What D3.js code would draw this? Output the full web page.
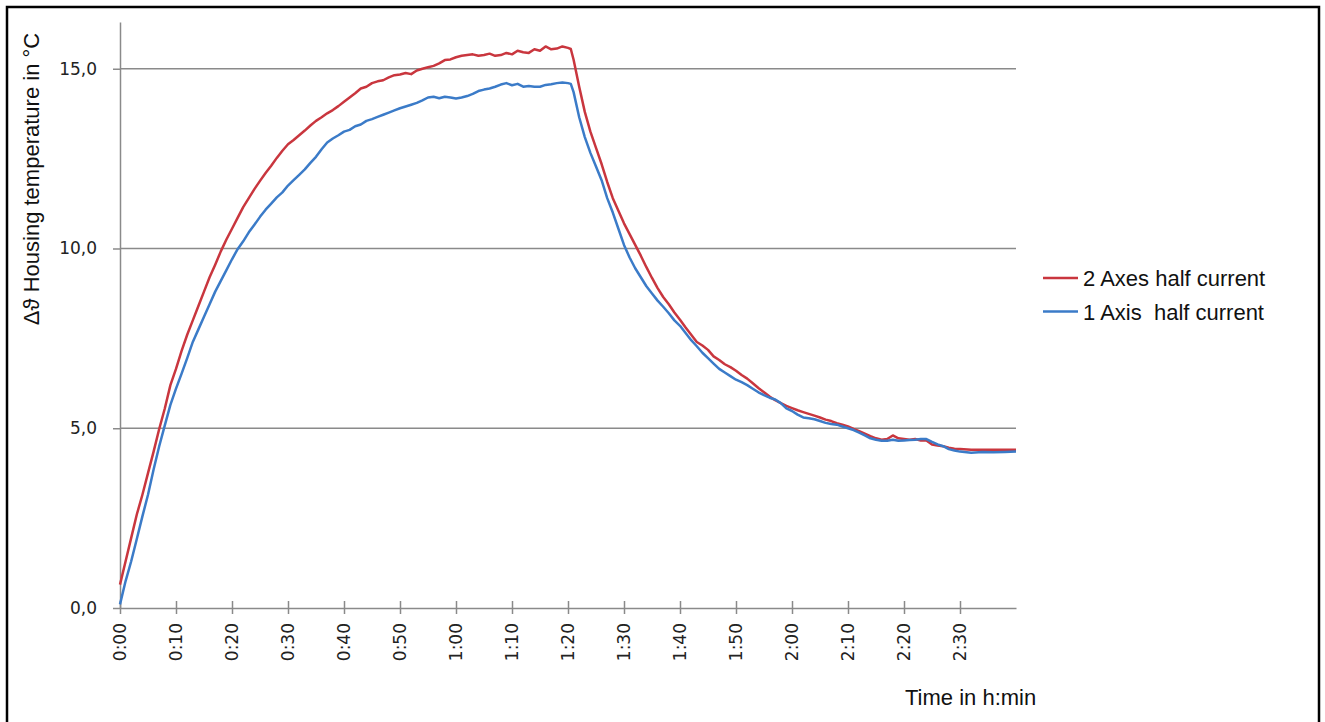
<!DOCTYPE html>
<html>
<head>
<meta charset="utf-8">
<script src="https://cdn.jsdelivr.net/npm/d3@7"></script>
<style>
  body { margin: 0; background: #fff; }
  .tick text { font-family: "DejaVu Sans", sans-serif; font-size: 17px; fill: #222; }
  .label { font-family: "Liberation Sans", Arial, sans-serif; font-size: 22px; fill: #111; }
</style>
</head>
<body>
<div id="chart-area"></div>
<script>

// measured time in minutes (shared by both runs)
var minutes = [
  0, 1, 2, 3, 4, 5, 6, 7, 8, 9,
  10, 11, 12, 13, 14, 15, 16, 17, 18, 19,
  20, 21, 22, 23, 24, 25, 26, 27, 28, 29,
  30, 31, 32, 33, 34, 35, 36, 37, 38, 39,
  40, 41, 42, 43, 44, 45, 46, 47, 48, 49,
  50, 51, 52, 53, 54, 55, 56, 57, 58, 59,
  60, 61, 62, 63, 64, 65, 66, 67, 68, 69,
  70, 71, 72, 73, 74, 75, 76, 77, 78, 79,
  80, 80.5, 81, 82, 83, 84, 85, 86, 87, 88, 89,
  90, 91, 92, 93, 94, 95, 96, 97, 98, 99,
  100, 101, 102, 103, 104, 105, 106, 107, 108, 109,
  110, 111, 112, 113, 114, 115, 116, 117, 118, 119,
  120, 121, 122, 123, 124, 125, 126, 127, 128, 129,
  130, 131, 132, 133, 134, 135, 136, 137, 138, 139,
  140, 141, 142, 143, 144, 145, 146, 147, 148, 149,
  150, 152, 154, 156, 158, 160
]

// 2 Axes half current
var twoAxes = [
  0.65, 1.3, 1.95, 2.6, 3.15, 3.75, 4.35, 4.98, 5.55, 6.2,
  6.65, 7.15, 7.6, 8.0, 8.4, 8.8, 9.2, 9.55, 9.92, 10.25,
  10.55, 10.85, 11.15, 11.4, 11.65, 11.88, 12.1, 12.3, 12.52, 12.72,
  12.9, 13.02, 13.15, 13.28, 13.42, 13.55, 13.65, 13.76, 13.85, 13.96,
  14.08, 14.2, 14.32, 14.45, 14.5, 14.6, 14.65, 14.68, 14.76, 14.82,
  14.84, 14.88, 14.85, 14.95, 15.0, 15.04, 15.08, 15.15, 15.24, 15.26,
  15.32, 15.36, 15.38, 15.4, 15.36, 15.38, 15.42, 15.36, 15.38, 15.44,
  15.4, 15.5, 15.46, 15.44, 15.54, 15.5, 15.62, 15.54, 15.56, 15.62,
  15.58, 15.55, 15.25, 14.5, 13.8, 13.25, 12.8, 12.35, 11.85, 11.4, 11.05,
  10.7, 10.4, 10.1, 9.8, 9.48, 9.18, 8.9, 8.65, 8.45, 8.22,
  8.02, 7.8, 7.6, 7.4, 7.3, 7.18, 7.0, 6.9, 6.78, 6.7,
  6.6, 6.48, 6.38, 6.25, 6.12, 6.0, 5.88, 5.78, 5.7, 5.62,
  5.56, 5.5, 5.45, 5.4, 5.35, 5.3, 5.24, 5.2, 5.14, 5.1,
  5.05, 4.98, 4.92, 4.85, 4.78, 4.72, 4.68, 4.7, 4.8, 4.72,
  4.7, 4.68, 4.7, 4.66, 4.66, 4.55, 4.52, 4.5, 4.46, 4.43,
  4.42, 4.4, 4.4, 4.4, 4.4, 4.4
]

// 1 Axis half current
var oneAxis = [
  0.1, 0.75, 1.3, 1.92, 2.55, 3.15, 3.85, 4.5, 5.08, 5.65,
  6.1, 6.52, 6.95, 7.4, 7.75, 8.1, 8.45, 8.8, 9.1, 9.4,
  9.7, 9.98, 10.2, 10.45, 10.66, 10.88, 11.08, 11.25, 11.42, 11.56,
  11.75, 11.9, 12.05, 12.2, 12.38, 12.55, 12.76, 12.95, 13.06, 13.15,
  13.25, 13.3, 13.4, 13.45, 13.55, 13.6, 13.66, 13.72, 13.78, 13.84,
  13.9, 13.95, 14.0, 14.05, 14.12, 14.2, 14.22, 14.18, 14.22, 14.2,
  14.17, 14.2, 14.24, 14.3, 14.38, 14.42, 14.45, 14.5, 14.56, 14.6,
  14.54, 14.58, 14.5, 14.52, 14.5, 14.5, 14.55, 14.57, 14.6, 14.62,
  14.6, 14.58, 14.35, 13.65, 13.1, 12.66, 12.28, 11.9, 11.4, 11.0, 10.55,
  10.1, 9.75, 9.45, 9.2, 8.95, 8.75, 8.55, 8.38, 8.2, 8.0,
  7.85, 7.65, 7.45, 7.28, 7.1, 6.95, 6.8, 6.65, 6.55, 6.45,
  6.35, 6.28, 6.2, 6.1, 6.0, 5.92, 5.85, 5.8, 5.7, 5.55,
  5.48, 5.38, 5.3, 5.28, 5.25, 5.2, 5.15, 5.12, 5.1, 5.05,
  5.0, 4.95, 4.88, 4.8, 4.72, 4.68, 4.65, 4.65, 4.68, 4.65,
  4.66, 4.67, 4.68, 4.7, 4.7, 4.62, 4.55, 4.5, 4.42, 4.38,
  4.35, 4.32, 4.34, 4.33, 4.34, 4.35
]

var seriesNames = ["2 Axes half current", "1 Axis  half current"]
var seriesColors = ["#c9363e", "#3b7bc8"]

var xTickValues = [0, 10, 20, 30, 40, 50, 60, 70, 80, 90, 100, 110, 120, 130, 140, 150]
var yTickValues = [0, 5, 10, 15]
var gridValues = [5, 10, 15]

var svg = d3.select("#chart-area").append("svg")
  .attr("width", 1325)
  .attr("height", 722)

svg.append("rect")
  .attr("width", 1325).attr("height", 722)
  .attr("fill", "#fff")

// frame round the whole figure
svg.append("rect")
  .attr("x", 7).attr("y", 7)
  .attr("width", 1312).attr("height", 740)
  .attr("fill", "none")
  .attr("stroke", "#000")
  .attr("stroke-width", 2.5)

var x = d3.scaleLinear().domain([0, 160]).range([120, 1016])
var y = d3.scaleLinear().domain([0, 16.3]).range([608, 22])

var axisColor = "#8a8a8a"

// gridlines
svg.append("g").selectAll("line")
  .data(gridValues)
  .enter().append("line")
    .attr("x1", x(0)).attr("x2", x(160))
    .attr("y1", function(d) { return y(d) })
    .attr("y2", function(d) { return y(d) })
    .attr("stroke", axisColor)
    .attr("stroke-width", 1.5)

var yAxisCall = d3.axisLeft(y)
  .tickValues(yTickValues)
  .tickSize(7)
  .tickSizeOuter(0)
  .tickPadding(16)
  .tickFormat(function(d) { return d3.format(".1f")(d).replace(".", ",") })

var yAxisGroup = svg.append("g")
  .attr("transform", "translate(" + x(0) + ",0)")
  .call(yAxisCall)
yAxisGroup.select(".domain").attr("stroke", axisColor).attr("stroke-width", 1.5)
yAxisGroup.selectAll(".tick line").attr("stroke", axisColor).attr("stroke-width", 1.5)

var xAxisCall = d3.axisBottom(x)
  .tickValues(xTickValues)
  .tickSizeOuter(0)
  .tickFormat(function(d) {
    return Math.floor(d / 60) + ":" + d3.format("02")(d % 60)
  })

var xAxisGroup = svg.append("g")
  .attr("transform", "translate(0," + y(0) + ")")
  .call(xAxisCall)
xAxisGroup.select(".domain").attr("stroke", axisColor).attr("stroke-width", 1.5)
xAxisGroup.selectAll(".tick line")
  .attr("y1", -7).attr("y2", 6)
  .attr("stroke", axisColor).attr("stroke-width", 1.5)
xAxisGroup.selectAll(".tick text")
  .attr("text-anchor", "end")
  .attr("transform", "rotate(-90)")
  .attr("x", -15)
  .attr("y", 0)
  .attr("dy", "0.35em")

// axis titles
svg.append("text")
  .attr("class", "label")
  .attr("transform", "translate(39,179) rotate(-90)")
  .attr("text-anchor", "middle")
  .text("Δϑ Housing temperature in °C")

svg.append("text")
  .attr("class", "label")
  .attr("x", 905)
  .attr("y", 705)
  .text("Time in h:min")

// the two measured curves
var line = d3.line()
  .x(function(d) { return x(d[0]) })
  .y(function(d) { return y(d[1]) })

var series = [twoAxes, oneAxis].map(function(vals) {
  return minutes.map(function(m, i) { return [m, vals[i]] })
})

svg.append("g").selectAll("path")
  .data(series)
  .enter().append("path")
    .attr("d", line)
    .attr("fill", "none")
    .attr("stroke", function(d, i) { return seriesColors[i] })
    .attr("stroke-width", 2.5)
    .attr("stroke-linejoin", "round")

// legend
var legend = svg.append("g").selectAll("g")
  .data(seriesNames)
  .enter().append("g")
    .attr("transform", function(d, i) { return "translate(1043," + (278 + i * 33.5) + ")" })

legend.append("line")
  .attr("x1", 0).attr("x2", 35)
  .attr("stroke", function(d, i) { return seriesColors[i] })
  .attr("stroke-width", 2.5)

legend.append("text")
  .attr("class", "label")
  .attr("x", 40)
  .attr("y", 8)
  .style("white-space", "pre")
  .text(function(d) { return d })

</script>
</body>
</html>
